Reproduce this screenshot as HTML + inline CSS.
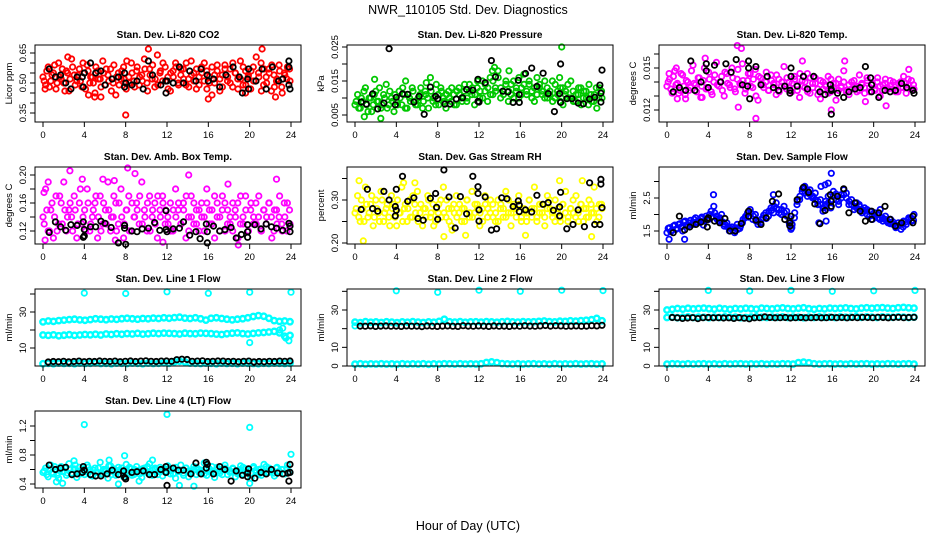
<!DOCTYPE html>
<html><head><meta charset="utf-8"><title>NWR_110105 Std. Dev. Diagnostics</title>
<style>
html,body{margin:0;padding:0;background:#fff;}
svg{display:block;font-family:"Liberation Sans",Arial,sans-serif;}
</style></head>
<body>
<svg id="chart" width="936" height="540" viewBox="0 0 936 540">
<text x="468" y="14" text-anchor="middle" font-size="12.5">NWR_110105  Std. Dev. Diagnostics</text>
<text x="468" y="530" text-anchor="middle" font-size="12.5">Hour of Day (UTC)</text>
</svg>
<script>
// ---------- data ----------
const xTicks = [0,4,8,12,16,20,24];

const co2Vals = [0.53,0.49,0.58,0.51,0.55,0.47,0.60,0.52,0.50,0.56,0.46,0.62,0.54,0.51,0.57,0.48,0.55,0.59,0.50,0.53,0.45,0.56,0.52,0.61,0.49,0.54,0.57,0.50,0.44,0.55,0.52,0.58,0.47,0.53,0.60,0.51,0.56,0.49,0.54,0.62,0.50,0.57,0.52,0.48,0.64,0.55,0.51,0.58,0.53,0.46,0.56,0.60,0.50,0.54,0.57,0.49,0.52,0.61,0.55,0.47,0.53,0.58,0.51,0.56,0.50,0.44,0.54,0.59,0.52,0.48,0.57,0.53,0.50,0.60,0.55,0.47,0.52,0.58,0.49,0.54,0.56,0.51,0.63,0.53,0.46,0.57,0.50,0.55,0.59,0.48,0.52,0.56,0.45,0.54,0.58,0.51];
const co2Vals2 = [0.51,0.56,0.48,0.54,0.59,0.50,0.53,0.57,0.46,0.55,0.52,0.58,0.49,0.54,0.51,0.60,0.47,0.56,0.53,0.50,0.58,0.52,0.48,0.55,0.57,0.51,0.46,0.59,0.53,0.49,0.56,0.52,0.61,0.50,0.55,0.48,0.58,0.53,0.51,0.57,0.46,0.54,0.59,0.52,0.49,0.56,0.60,0.51,0.47,0.55,0.53,0.58,0.49,0.57,0.52,0.60,0.48,0.54,0.51,0.57,0.49,0.55,0.60,0.47,0.53,0.58,0.50,0.56,0.46,0.54,0.59,0.51,0.57,0.48,0.55,0.52,0.61,0.49,0.56,0.53,0.47,0.58,0.51,0.55,0.60,0.49,0.53,0.57,0.46,0.54,0.51,0.59,0.48,0.55,0.52,0.57];
const co2OutH = [8.0,16.0,10.2,21.2,4.4,5.0,5.6,19.6,22.5,2.4,0.2];
const co2OutV = [0.34,0.42,0.67,0.67,0.44,0.43,0.43,0.45,0.43,0.63,0.47];
const co2BlkH = [0.6,1.2,1.7,2.2,2.7,3.3,3.8,3.9,4.0,4.6,5.1,5.6,6.0,6.7,7.3,7.9,7.9,8.0,8.6,9.1,9.7,10.2,10.6,11.4,11.9,12.0,11.9,12.6,13.2,13.6,14.2,14.8,15.3,15.9,16.0,16.5,17.1,17.7,18.4,19.0,19.3,19.8,19.9,19.9,20.6,21.2,21.6,22.2,22.8,23.2,23.8,23.8,23.8,23.9];
const co2BlkV = [0.57,0.53,0.54,0.50,0.47,0.53,0.53,0.48,0.55,0.60,0.55,0.56,0.49,0.52,0.53,0.55,0.48,0.50,0.49,0.51,0.47,0.61,0.54,0.49,0.51,0.51,0.45,0.50,0.58,0.50,0.56,0.51,0.57,0.54,0.51,0.52,0.48,0.54,0.58,0.53,0.45,0.52,0.57,0.47,0.51,0.57,0.47,0.58,0.51,0.52,0.61,0.58,0.49,0.47];

const presVals = [0.008,0.011,0.007,0.009,0.013,0.006,0.010,0.008,0.012,0.009,0.007,0.011,0.014,0.008,0.010,0.006,0.009,0.012,0.008,0.011,0.007,0.010,0.013,0.009,0.008,0.011,0.007,0.012,0.010,0.016,0.009,0.008,0.011,0.013,0.010,0.007,0.012,0.009,0.011,0.008,0.013,0.010,0.012,0.009,0.014,0.011,0.008,0.013,0.010,0.015,0.012,0.009,0.016,0.011,0.013,0.018,0.010,0.012,0.014,0.009,0.011,0.015,0.012,0.010,0.013,0.017,0.011,0.014,0.012,0.009,0.016,0.013,0.011,0.015,0.010,0.012,0.009,0.014,0.011,0.013,0.008,0.012,0.010,0.015,0.009,0.011,0.013,0.008,0.012,0.010,0.014,0.009,0.011,0.007,0.013,0.010];
const presVals2 = [0.009,0.007,0.010,0.012,0.008,0.010,0.006,0.011,0.009,0.013,0.008,0.010,0.007,0.012,0.009,0.011,0.008,0.010,0.013,0.007,0.011,0.009,0.012,0.008,0.010,0.013,0.009,0.011,0.007,0.012,0.010,0.014,0.008,0.012,0.009,0.011,0.010,0.013,0.008,0.012,0.011,0.009,0.014,0.010,0.012,0.013,0.011,0.015,0.012,0.010,0.014,0.013,0.011,0.015,0.012,0.016,0.013,0.011,0.015,0.012,0.014,0.010,0.013,0.016,0.011,0.014,0.012,0.015,0.010,0.013,0.011,0.014,0.012,0.010,0.013,0.011,0.015,0.010,0.012,0.009,0.013,0.011,0.014,0.010,0.012,0.009,0.011,0.013,0.010,0.012,0.008,0.011,0.009,0.013,0.010,0.012];
const presOutH = [20.0,19.8,13.3,13.5,2.5,0.9,14.9,6.9,4.9,1.9];
const presOutV = [0.025,0.016,0.018,0.019,0.004,0.0045,0.018,0.0145,0.015,0.0155];
const presBlkH = [0.6,1.1,1.7,2.2,2.8,3.3,3.9,4.0,4.6,5.1,5.7,6.2,6.7,7.3,7.8,8.0,8.7,9.2,9.8,10.4,10.8,11.4,11.9,11.9,12.0,12.6,13.2,13.6,14.3,14.8,15.3,15.8,15.9,15.9,16.5,17.1,17.6,18.2,18.7,19.3,19.8,19.9,19.9,20.5,21.0,21.6,22.1,22.7,23.2,23.7,23.8,23.8,23.9];
const presBlkV = [0.0088,0.0082,0.0112,0.0068,0.0085,0.0245,0.0080,0.0102,0.0112,0.0111,0.0088,0.0105,0.0052,0.0132,0.0105,0.0098,0.0082,0.0082,0.0097,0.0101,0.0125,0.0123,0.0155,0.0090,0.0088,0.0145,0.0210,0.0162,0.0120,0.0118,0.0087,0.0152,0.0110,0.0087,0.0172,0.0188,0.0134,0.0173,0.0113,0.0060,0.0113,0.0087,0.0200,0.0098,0.0098,0.0085,0.0083,0.0097,0.0102,0.0138,0.0114,0.0088,0.0182];

const tempVals = [0.0137,0.0142,0.0132,0.0148,0.0139,0.0134,0.0145,0.0131,0.0140,0.0136,0.0152,0.0138,0.0143,0.0129,0.0141,0.0135,0.0147,0.0133,0.0140,0.0154,0.0137,0.0144,0.0130,0.0146,0.0138,0.0150,0.0135,0.0142,0.0139,0.0153,0.0132,0.0141,0.0146,0.0136,0.0149,0.0127,0.0143,0.0138,0.0140,0.0134,0.0145,0.0139,0.0131,0.0142,0.0137,0.0151,0.0135,0.0140,0.0133,0.0144,0.0138,0.0129,0.0141,0.0136,0.0146,0.0132,0.0139,0.0143,0.0135,0.0128,0.0140,0.0137,0.0144,0.0133,0.0139,0.0127,0.0142,0.0136,0.0148,0.0134,0.0131,0.0140,0.0137,0.0133,0.0145,0.0138,0.0132,0.0141,0.0136,0.0139,0.0134,0.0143,0.0130,0.0138,0.0142,0.0135,0.0137,0.0140,0.0133,0.0139,0.0136,0.0144,0.0132,0.0138,0.0141,0.0135];
const tempVals2 = [0.0140,0.0135,0.0144,0.0138,0.0132,0.0146,0.0137,0.0141,0.0134,0.0148,0.0139,0.0133,0.0143,0.0137,0.0150,0.0136,0.0142,0.0131,0.0145,0.0138,0.0140,0.0134,0.0147,0.0139,0.0136,0.0143,0.0133,0.0149,0.0138,0.0141,0.0135,0.0146,0.0137,0.0142,0.0130,0.0144,0.0139,0.0136,0.0147,0.0134,0.0141,0.0138,0.0145,0.0133,0.0140,0.0137,0.0143,0.0136,0.0139,0.0142,0.0134,0.0146,0.0137,0.0140,0.0133,0.0143,0.0136,0.0139,0.0131,0.0141,0.0135,0.0138,0.0132,0.0142,0.0136,0.0139,0.0134,0.0137,0.0140,0.0133,0.0138,0.0135,0.0141,0.0137,0.0134,0.0139,0.0136,0.0143,0.0133,0.0138,0.0135,0.0140,0.0137,0.0134,0.0139,0.0136,0.0141,0.0135,0.0138,0.0133,0.0140,0.0136,0.0139,0.0142,0.0135,0.0138];
const tempOutH = [6.8,7.2,3.7,8.6,6.9,15.9,19.2,21.2,1.0,1.8,3.4,13.1,17.2,23.4,0.2,0.9];
const tempOutV = [0.0166,0.0164,0.0157,0.0114,0.0122,0.0120,0.0126,0.0123,0.0128,0.0128,0.0129,0.0155,0.0155,0.0149,0.0146,0.0150];
const tempBlkH = [0.6,1.2,1.8,2.3,2.7,3.3,3.8,3.8,4.0,4.6,5.2,5.7,6.2,6.7,7.3,7.8,7.9,7.9,8.0,8.6,9.1,9.7,10.3,10.8,11.4,11.9,11.9,12.0,12.0,12.6,13.2,13.6,14.2,14.8,15.3,15.8,15.9,15.9,15.9,16.5,17.1,17.6,18.2,18.7,19.2,19.7,19.8,19.8,20.5,21.1,21.6,22.1,22.7,23.2,23.8,23.9];
const tempBlkV = [0.0133,0.0136,0.0134,0.0155,0.0134,0.0140,0.0148,0.0153,0.0136,0.0152,0.0140,0.0153,0.0147,0.0156,0.0138,0.0137,0.0155,0.0150,0.0128,0.0151,0.0138,0.0144,0.0136,0.0134,0.0137,0.0132,0.0134,0.0150,0.0144,0.0137,0.0144,0.0135,0.0144,0.0133,0.0131,0.0138,0.0134,0.0135,0.0117,0.0132,0.0129,0.0133,0.0135,0.0136,0.0151,0.0143,0.0138,0.0133,0.0129,0.0134,0.0133,0.0134,0.0139,0.0136,0.0134,0.0132];

const ambVals = [0.14,0.18,0.12,0.15,0.11,0.17,0.13,0.16,0.19,0.12,0.15,0.14,0.17,0.11,0.16,0.13,0.15,0.18,0.12,0.14,0.16,0.11,0.17,0.13,0.15,0.19,0.12,0.14,0.16,0.13,0.18,0.11,0.15,0.17,0.12,0.14,0.16,0.13,0.19,0.15,0.12,0.17,0.14,0.16,0.11,0.15,0.17,0.13,0.14,0.16,0.12,0.18,0.15,0.13,0.16,0.11,0.14,0.17,0.13,0.15,0.12,0.16,0.14,0.18,0.13,0.15,0.11,0.16,0.14,0.17,0.12,0.15,0.13,0.16,0.14,0.11,0.17,0.13,0.15,0.12,0.16,0.14,0.13,0.17,0.12,0.15,0.14,0.16,0.11,0.15,0.13,0.17,0.12,0.14,0.16,0.13];
const ambVals2 = [0.13,0.15,0.12,0.16,0.14,0.12,0.17,0.13,0.15,0.14,0.16,0.12,0.15,0.13,0.18,0.14,0.12,0.16,0.13,0.15,0.17,0.14,0.12,0.16,0.13,0.15,0.14,0.17,0.12,0.16,0.14,0.13,0.15,0.12,0.16,0.14,0.15,0.17,0.13,0.14,0.16,0.12,0.15,0.13,0.17,0.14,0.16,0.15,0.13,0.12,0.15,0.14,0.16,0.13,0.15,0.17,0.12,0.14,0.16,0.13,0.15,0.14,0.12,0.16,0.15,0.13,0.17,0.14,0.12,0.15,0.16,0.13,0.14,0.12,0.15,0.16,0.13,0.14,0.17,0.12,0.15,0.13,0.16,0.14,0.12,0.15,0.13,0.16,0.14,0.12,0.15,0.14,0.13,0.16,0.12,0.15];
const ambOutH = [0.1,0.5,2.6,3.8,5.8,6.9,8.2,8.9,14.1,17.9,22.6,0.2,7.0,11.6,18.9];
const ambOutV = [0.175,0.190,0.206,0.194,0.194,0.192,0.210,0.202,0.200,0.187,0.194,0.107,0.107,0.104,0.100];
const ambBlkH = [0.6,1.2,1.7,2.2,2.7,3.3,3.9,3.9,4.0,4.0,4.6,5.1,5.6,6.0,6.6,7.3,7.9,7.9,8.0,8.6,9.1,9.6,10.2,10.8,11.3,11.9,11.9,12.0,12.6,13.2,13.6,14.2,14.8,15.2,15.8,15.9,15.9,16.5,17.1,17.6,18.2,18.7,19.2,19.8,19.8,19.8,20.5,21.1,21.6,22.1,22.6,23.2,23.8,23.9,23.9];
const ambBlkV = [0.118,0.133,0.126,0.121,0.129,0.128,0.133,0.111,0.122,0.113,0.126,0.126,0.134,0.131,0.125,0.103,0.128,0.124,0.101,0.120,0.119,0.123,0.124,0.132,0.121,0.149,0.122,0.119,0.123,0.124,0.133,0.114,0.119,0.109,0.130,0.119,0.103,0.127,0.120,0.122,0.125,0.110,0.115,0.129,0.119,0.111,0.129,0.123,0.130,0.126,0.124,0.121,0.131,0.127,0.119];

const rhVals = [0.27,0.31,0.25,0.28,0.33,0.26,0.29,0.24,0.30,0.27,0.32,0.25,0.28,0.26,0.31,0.29,0.24,0.27,0.33,0.28,0.25,0.30,0.26,0.29,0.32,0.27,0.24,0.28,0.31,0.26,0.29,0.25,0.27,0.30,0.33,0.26,0.28,0.24,0.29,0.31,0.27,0.25,0.28,0.30,0.26,0.32,0.27,0.29,0.24,0.28,0.31,0.26,0.27,0.29,0.25,0.30,0.28,0.26,0.32,0.27,0.24,0.29,0.28,0.31,0.26,0.27,0.25,0.30,0.28,0.33,0.26,0.29,0.27,0.24,0.31,0.28,0.26,0.30,0.27,0.25,0.29,0.32,0.26,0.28,0.27,0.31,0.25,0.29,0.28,0.26,0.30,0.27,0.33,0.25,0.29,0.28];
const rhVals2 = [0.28,0.26,0.30,0.25,0.29,0.27,0.31,0.26,0.28,0.25,0.30,0.27,0.29,0.24,0.28,0.26,0.30,0.27,0.25,0.29,0.28,0.26,0.31,0.27,0.25,0.29,0.28,0.26,0.30,0.27,0.24,0.28,0.29,0.26,0.27,0.30,0.25,0.28,0.27,0.26,0.29,0.28,0.25,0.30,0.27,0.26,0.29,0.28,0.27,0.25,0.29,0.28,0.30,0.26,0.27,0.25,0.29,0.28,0.26,0.30,0.27,0.28,0.26,0.29,0.25,0.28,0.27,0.30,0.26,0.28,0.25,0.27,0.29,0.26,0.28,0.30,0.27,0.25,0.28,0.26,0.29,0.27,0.25,0.28,0.30,0.26,0.27,0.29,0.25,0.28,0.26,0.29,0.27,0.28,0.26,0.29];
const rhOutH = [0.4,0.8,8.6,10.7,16.5,19.8,22.0,22.9,4.7,5.8,9.4];
const rhOutV = [0.345,0.205,0.215,0.218,0.218,0.345,0.345,0.215,0.340,0.340,0.230];
const rhBlkH = [0.6,1.2,1.7,2.2,2.8,3.3,3.9,3.9,4.0,4.0,4.6,5.1,5.7,6.1,6.6,7.3,7.8,7.9,8.0,8.6,9.1,9.7,10.2,10.8,11.4,11.9,11.9,12.0,12.0,12.6,13.2,13.7,14.2,14.7,15.3,15.8,15.9,15.9,16.5,17.1,17.6,18.2,18.7,19.2,19.8,19.8,19.9,20.5,21.1,21.6,22.2,22.7,23.2,23.7,23.8,23.8,23.9];
const rhBlkV = [0.278,0.325,0.280,0.274,0.320,0.300,0.285,0.263,0.325,0.276,0.355,0.297,0.305,0.257,0.253,0.304,0.315,0.283,0.255,0.370,0.307,0.235,0.308,0.268,0.355,0.331,0.315,0.277,0.251,0.307,0.230,0.233,0.305,0.303,0.285,0.298,0.273,0.288,0.277,0.272,0.311,0.290,0.294,0.276,0.284,0.263,0.318,0.233,0.243,0.277,0.238,0.340,0.243,0.243,0.348,0.337,0.282];

const sfVals = [1.45,1.60,1.52,1.68,1.58,1.72,1.50,1.80,1.65,1.82,1.70,1.90,1.75,1.88,1.68,1.95,1.85,2.10,2.25,1.95,1.80,2.00,1.65,1.75,1.50,1.62,1.45,1.70,1.58,1.75,1.90,2.05,2.15,1.85,2.00,1.70,1.75,1.90,2.05,1.95,2.20,2.05,2.35,2.15,2.00,2.25,2.10,1.75,1.60,1.90,2.30,2.45,2.70,2.85,2.55,2.75,2.50,2.65,2.30,2.45,2.10,2.30,2.55,2.20,2.70,2.45,2.30,2.60,2.75,2.50,2.40,2.30,2.15,2.35,2.25,2.05,2.20,2.00,2.10,1.85,2.05,1.90,2.15,1.80,1.95,1.75,1.85,1.70,1.60,1.75,1.55,1.80,1.70,1.90,1.80,2.00];
const sfVals2 = [1.58,1.48,1.65,1.55,1.70,1.62,1.78,1.68,1.75,1.70,1.85,1.78,1.82,1.92,1.80,1.88,2.00,1.92,2.05,1.85,1.90,1.78,1.70,1.62,1.58,1.52,1.60,1.55,1.65,1.85,1.95,1.92,2.05,1.95,1.80,1.78,1.85,1.98,1.88,2.10,2.12,2.25,2.18,2.05,2.15,2.05,1.95,1.68,1.70,2.05,2.40,2.55,2.78,2.65,2.72,2.60,2.55,2.45,2.40,2.30,2.20,2.40,2.35,2.45,2.55,2.62,2.40,2.50,2.60,2.65,2.30,2.45,2.25,2.20,2.30,2.15,2.10,2.15,1.95,2.00,1.95,2.00,1.85,1.90,1.85,1.80,1.72,1.78,1.68,1.65,1.70,1.62,1.78,1.85,1.90,1.82];
const sfOutH = [15.9,15.6,15.3,14.9,4.5,10.3,0.2,1.7,15.4,14.7,12.0];
const sfOutV = [3.25,2.95,2.90,2.85,2.60,2.60,1.25,1.25,1.80,1.75,1.55];
const sfBlkH = [0.6,1.2,1.7,2.2,2.8,3.3,3.9,3.9,4.0,4.6,5.1,5.6,6.1,6.6,7.2,7.9,7.9,8.6,9.1,9.6,10.2,10.8,11.4,11.9,11.9,12.0,12.6,13.2,13.7,14.3,14.8,15.3,15.8,15.9,15.9,16.5,17.1,17.6,18.2,18.7,19.2,19.8,19.8,20.5,21.1,21.6,22.1,22.7,23.8,23.8];
const sfBlkV = [1.45,1.95,1.53,1.62,1.70,1.77,1.85,1.62,1.90,1.80,1.75,1.88,1.50,1.50,1.73,2.10,1.95,1.83,1.70,1.90,2.40,2.62,1.85,1.75,1.65,1.95,2.45,2.82,2.67,2.32,1.72,2.12,2.60,2.40,2.25,2.55,2.78,2.05,2.35,2.10,1.80,1.85,2.10,2.05,2.25,1.85,1.65,1.75,1.75,1.95];

const l1BandA = [24.5,25.0,24.8,25.2,25.5,25.8,26.0,25.6,25.4,25.8,26.2,26.0,25.7,26.1,25.9,26.3,26.5,26.2,26.0,26.4,26.2,26.6,26.4,26.8,26.5,26.9,27.1,26.6,26.4,26.8,26.2,25.5,26.5,26.8,26.4,26.0,25.6,26.0,26.3,26.8,27.5,28.0,27.6,26.5,25.2,24.8,25.0,24.6];
const l1BandB = [17.2,17.0,17.3,16.8,17.1,17.4,17.0,17.2,17.5,17.3,17.6,17.2,17.8,17.5,17.9,17.6,18.0,17.8,18.1,17.7,17.9,18.2,18.0,18.3,18.1,18.0,17.8,18.2,18.0,17.9,18.3,18.1,18.0,17.7,17.5,17.9,18.2,18.4,18.0,17.8,18.1,18.4,18.6,18.9,19.2,18.4,16.5,17.0];
const l1BandC = [1.2,1.5,1.3,1.6,1.4,1.5,1.3,1.6,1.4,1.5,1.7,1.4,1.5,1.3,1.6,1.5,1.4,1.6,1.5,1.3,1.6,1.4,1.5,1.7,1.5,2.4,2.6,2.3,1.6,1.5,1.4,1.6,1.5,1.3,1.6,1.4,1.5,1.3,1.6,1.5,1.4,1.3,1.5,1.4,1.6,1.5,1.4,1.5];
const l1Blk = [2.2,2.5,2.4,2.6,2.3,2.5,2.7,2.4,2.6,2.5,2.8,2.6,2.5,2.7,2.4,2.6,2.8,2.5,2.7,2.9,2.6,2.5,2.7,2.8,2.6,3.5,3.8,3.6,2.6,2.7,2.9,2.5,2.6,2.8,2.7,2.5,2.6,2.4,2.6,2.7,2.3,2.5,2.4,2.6,2.5,2.7,2.6,2.8];
const l1OutH = [4,8,12,16,20,24,20.0,23.8,23.5,22.9,23.2];
const l1OutV = [40.5,40.3,41.2,40.4,41.0,41.0,13.0,14.0,15.5,20.0,21.0];

const l2BandA = [23.5,23.2,23.8,23.4,23.6,23.3,23.7,23.5,23.2,23.6,23.4,23.8,23.5,23.3,23.6,23.4,23.9,25.0,23.7,23.5,23.8,23.4,23.6,23.7,23.5,23.8,23.6,23.4,23.7,23.9,23.6,23.5,23.8,23.6,23.7,23.9,24.1,23.8,23.6,24.0,23.9,24.2,24.0,24.3,24.5,24.8,25.5,24.2];
const l2Blk = [21.4,21.3,21.5,21.2,21.4,21.5,21.3,21.4,21.2,21.5,21.3,21.4,21.1,21.5,21.3,21.2,21.4,21.5,21.3,21.2,21.6,21.4,21.3,21.5,21.4,21.2,21.5,21.3,21.4,21.2,21.5,21.3,21.6,21.4,21.3,21.5,21.7,21.4,21.6,21.5,21.3,21.4,21.5,21.3,21.4,21.6,21.5,21.8];
const l2BandC = [1.0,1.2,0.9,1.1,1.0,1.2,1.0,1.1,0.9,1.2,1.0,1.1,1.0,1.2,0.9,1.1,1.0,1.2,1.1,1.0,1.2,1.0,1.1,1.0,1.2,1.9,2.2,1.8,1.3,1.1,1.0,1.2,1.0,1.1,1.2,1.0,1.1,0.9,1.2,1.0,1.1,1.0,1.2,1.0,1.1,1.2,1.0,1.1];
const l2OutH = [4,8,12,16,20,24,0.0];
const l2OutV = [40.3,39.5,40.6,40.0,40.6,40.4,21.5];

const l3BandA = [30.0,30.4,30.8,30.5,30.9,30.6,30.8,31.0,30.7,30.5,30.9,30.6,30.4,30.8,30.6,30.9,30.7,30.5,31.0,30.8,30.6,30.9,31.1,30.8,30.6,30.9,31.2,30.7,30.4,30.8,30.6,31.0,30.8,30.9,31.1,30.8,30.6,31.0,31.2,30.9,31.1,31.3,31.0,30.8,31.2,31.4,31.1,31.0];
const l3BandB = [26.0,26.2,25.9,26.1,26.3,26.0,26.2,26.1,25.9,26.2,26.0,26.3,26.1,26.2,25.9,26.0,26.2,26.3,26.1,26.0,26.2,26.1,26.3,26.0,26.2,26.1,25.9,26.2,26.0,26.3,26.1,26.2,26.0,26.3,26.1,26.2,26.4,26.1,26.3,26.2,26.0,26.3,26.2,26.1,26.3,26.2,26.0,26.2];
const l3Blk = [26.0,25.8,25.5,25.7,25.9,25.4,25.9,26.0,25.8,25.9,25.7,25.8,25.5,25.9,25.6,25.3,25.8,25.9,26.3,26.0,25.8,25.9,26.0,25.7,25.9,26.0,25.8,25.9,26.0,25.8,25.9,26.1,25.9,26.0,25.8,26.0,25.9,26.1,26.0,25.9,26.1,26.0,25.8,26.0,26.1,25.9,26.0,26.1];
const l3BandC = [1.0,1.2,1.1,0.9,1.2,1.0,1.1,1.2,1.0,1.1,0.9,1.2,1.0,1.1,1.2,1.0,1.1,1.0,1.2,0.9,1.1,1.0,1.2,1.1,1.0,1.8,2.1,1.7,1.2,1.0,1.1,1.2,1.0,1.1,0.9,1.2,1.0,1.1,1.2,1.0,1.1,1.0,1.2,1.1,1.0,1.1,1.2,1.0];
const l3OutH = [4,8,12,16,20,24,0.0,0.0];
const l3OutV = [40.5,40.2,40.5,40.0,40.3,40.5,26.0,30.0];

const l4Vals = [0.56,0.62,0.50,0.66,0.54,0.60,0.48,0.64,0.58,0.52,0.68,0.55,0.61,0.49,0.63,0.57,0.53,0.66,0.59,0.51,0.62,0.56,0.70,0.54,0.60,0.48,0.65,0.57,0.52,0.63,0.58,0.50,0.67,0.55,0.61,0.53,0.64,0.59,0.49,0.62,0.56,0.68,0.52,0.60,0.57,0.63,0.51,0.58,0.65,0.54,0.61,0.48,0.59,0.66,0.55,0.62,0.50,0.57,0.64,0.53,0.60,0.56,0.69,0.52,0.61,0.58,0.49,0.63,0.55,0.60,0.66,0.53,0.58,0.62,0.50,0.57,0.65,0.54,0.61,0.59,0.48,0.64,0.56,0.60,0.52,0.67,0.55,0.62,0.58,0.51,0.63,0.57,0.60,0.54,0.66,0.56];
const l4Vals2 = [0.58,0.53,0.61,0.56,0.64,0.52,0.59,0.57,0.62,0.55,0.60,0.53,0.66,0.58,0.54,0.61,0.57,0.63,0.52,0.59,0.56,0.62,0.54,0.60,0.58,0.65,0.53,0.61,0.56,0.59,0.62,0.55,0.58,0.63,0.52,0.60,0.57,0.54,0.61,0.58,0.64,0.55,0.59,0.62,0.53,0.57,0.60,0.56,0.61,0.58,0.54,0.63,0.57,0.59,0.52,0.62,0.58,0.55,0.60,0.63,0.56,0.59,0.54,0.61,0.57,0.64,0.55,0.60,0.58,0.53,0.62,0.59,0.56,0.61,0.57,0.54,0.60,0.63,0.56,0.58,0.55,0.62,0.59,0.53,0.61,0.57,0.64,0.56,0.59,0.55,0.62,0.58,0.60,0.54,0.61,0.57];
const l4OutH = [4.0,12.0,20.0,24.0,7.9,7.3,13.2,14.6,1.9,20.0,3.0,6.4,1.3,9.3,10.6];
const l4OutV = [1.22,1.36,1.18,0.81,0.79,0.40,0.38,0.37,0.41,0.41,0.72,0.73,0.43,0.44,0.73];
const l4BlkH = [0.6,1.2,1.7,2.2,2.8,3.3,3.8,3.9,4.0,4.6,5.1,5.6,6.2,6.7,7.3,7.8,7.9,8.0,8.6,9.1,9.7,10.3,10.8,11.4,11.9,11.9,12.0,12.6,13.1,13.6,14.3,14.8,15.3,15.8,15.8,15.9,16.5,17.1,17.6,18.2,18.7,19.3,19.8,19.8,19.9,20.5,21.1,21.6,22.1,22.7,23.2,23.7,23.8,23.9,23.9];
const l4BlkV = [0.66,0.60,0.62,0.63,0.53,0.54,0.56,0.64,0.59,0.53,0.51,0.51,0.54,0.59,0.53,0.58,0.49,0.47,0.56,0.57,0.58,0.53,0.53,0.60,0.64,0.56,0.38,0.62,0.59,0.59,0.54,0.69,0.54,0.62,0.70,0.67,0.54,0.64,0.60,0.44,0.58,0.52,0.55,0.50,0.61,0.48,0.56,0.54,0.60,0.55,0.54,0.55,0.44,0.56,0.67];

// ---------- drawing ----------
const svg = document.getElementById('chart');
const NS = 'http://www.w3.org/2000/svg';
function mk(tag, attrs, parent){
  const e = document.createElementNS(NS, tag);
  for (const k in attrs) e.setAttribute(k, attrs[k]);
  (parent || svg).appendChild(e);
  return e;
}
function grid(n, a, b){ const r=[]; for(let i=0;i<n;i++) r.push(a + (b-a)*i/(n-1)); return r; }

const panels = [
 {key:'co2', title:'Stan. Dev. Li-820 CO2', ylab:'Licor ppm', col:0,row:0, ref:[0.65,8,0.35,68],
  ticks:[0.35,0.40,0.45,0.50,0.55,0.60,0.65], labels:['0.35','0.50','0.65'], labelVals:[0.35,0.50,0.65],
  series:[{v:co2Vals,c:'#ff0000'},{v:co2Vals2,c:'#ff0000',a:0.12,b:23.85},{h:co2OutH,v:co2OutV,c:'#ff0000'},{h:co2BlkH,v:co2BlkV,c:'#000'}]},
 {key:'pressure', title:'Stan. Dev. Li-820 Pressure', ylab:'kPa', col:1,row:0, ref:[0.025,2,0.005,70],
  ticks:[0.005,0.010,0.015,0.020,0.025], labels:['0.005','0.015','0.025'], labelVals:[0.005,0.015,0.025],
  series:[{v:presVals,c:'#00c800'},{v:presVals2,c:'#00c800',a:0.12,b:23.85},{h:presOutH,v:presOutV,c:'#00c800'},{h:presBlkH,v:presBlkV,c:'#000'}]},
 {key:'temp', title:'Stan. Dev. Li-820 Temp.', ylab:'degrees C', col:2,row:0, ref:[0.015,23,0.012,65],
  ticks:[0.012,0.013,0.014,0.015,0.016], labels:['0.012','0.015'], labelVals:[0.012,0.015],
  series:[{v:tempVals,c:'#ff00ff'},{v:tempVals2,c:'#ff00ff',a:0.12,b:23.85},{h:tempOutH,v:tempOutV,c:'#ff00ff'},{h:tempBlkH,v:tempBlkV,c:'#000'}]},
 {key:'amb-box', title:'Stan. Dev. Amb. Box Temp.', ylab:'degrees C', col:0,row:1, ref:[0.20,8,0.12,64],
  ticks:[0.12,0.14,0.16,0.18,0.20], labels:['0.12','0.16','0.20'], labelVals:[0.12,0.16,0.20],
  series:[{v:ambVals,c:'#ff00ff'},{v:ambVals2,c:'#ff00ff',a:0.12,b:23.85},{h:ambOutH,v:ambOutV,c:'#ff00ff'},{h:ambBlkH,v:ambBlkV,c:'#000'}]},
 {key:'rh', title:'Stan. Dev. Gas Stream RH', ylab:'percent', col:1,row:1, ref:[0.30,33,0.20,76],
  ticks:[0.20,0.25,0.30,0.35], labels:['0.20','0.30'], labelVals:[0.20,0.30],
  series:[{v:rhVals,c:'#ffff00'},{v:rhVals2,c:'#ffff00',a:0.12,b:23.85},{h:rhOutH,v:rhOutV,c:'#ffff00'},{h:rhBlkH,v:rhBlkV,c:'#000'}]},
 {key:'sample-flow', title:'Stan. Dev. Sample Flow', ylab:'ml/min', col:2,row:1, ref:[2.5,31,1.5,64],
  ticks:[1.5,2.0,2.5,3.0], labels:['1.5','2.5'], labelVals:[1.5,2.5],
  series:[{v:sfVals,c:'#0000ff'},{v:sfVals2,c:'#0000ff',a:0.12,b:23.85},{h:sfOutH,v:sfOutV,c:'#0000ff'},{h:sfBlkH,v:sfBlkV,c:'#000'}]},
 {key:'line1', title:'Stan. Dev. Line 1 Flow', ylab:'ml/min', col:0,row:2, ref:[30,23,10,59],
  ticks:[10,20,30,40], labels:['10','30'], labelVals:[10,30],
  series:[{v:l1BandA,c:'#00ffff',w:2.4},{v:l1BandB,c:'#00ffff',w:2.4},{v:l1BandC,c:'#00ffff',w:2.4},{h:l1OutH,v:l1OutV,c:'#00ffff'},{v:l1Blk,c:'#000',a:0.5,b:23.9}]},
 {key:'line2', title:'Stan. Dev. Line 2 Flow', ylab:'ml/min', col:1,row:2, ref:[30,21,0,77],
  ticks:[0,10,20,30,40], labels:['0','10','30'], labelVals:[0,10,30],
  series:[{v:l2BandA,c:'#00ffff',w:2.4},{v:l2BandC,c:'#00ffff',w:2.4},{h:l2OutH,v:l2OutV,c:'#00ffff'},{v:l2Blk,c:'#000',a:0.5,b:23.9}]},
 {key:'line3', title:'Stan. Dev. Line 3 Flow', ylab:'ml/min', col:2,row:2, ref:[30,21,0,77],
  ticks:[0,10,20,30,40], labels:['0','10','30'], labelVals:[0,10,30],
  series:[{v:l3BandA,c:'#00ffff',w:2.4},{v:l3BandB,c:'#00ffff',w:2.4},{v:l3BandC,c:'#00ffff',w:2.4},{h:l3OutH,v:l3OutV,c:'#00ffff'},{v:l3Blk,c:'#000',a:0.5,b:23.9}]},
 {key:'line4', title:'Stan. Dev. Line 4 (LT) Flow', ylab:'ml/min', col:0,row:3, ref:[1.2,15,0.4,73],
  ticks:[0.4,0.6,0.8,1.0,1.2], labels:['0.4','0.8','1.2'], labelVals:[0.4,0.8,1.2],
  series:[{v:l4Vals,c:'#00ffff'},{v:l4Vals2,c:'#00ffff',a:0.12,b:23.85},{h:l4OutH,v:l4OutV,c:'#00ffff'},{h:l4BlkH,v:l4BlkV,c:'#000'}]}
];

panels.forEach(p => {
  const X0 = p.col*312;
  const top = 45 + p.row*122, bot = top + 77;
  const left = X0 + 35, right = X0 + 301;
  const xs = h => X0 + 43 + h*248/24;
  const ys = v => top + p.ref[1] + (v - p.ref[0])*(p.ref[3]-p.ref[1])/(p.ref[2]-p.ref[0]);

  const g = mk('g', {});
  
  

  const t = mk('text', {x:(left+right)/2, y:top-7, 'text-anchor':'middle', 'font-size':'10', 'font-weight':'bold'}, g);
  t.textContent = p.title;
  
  

  const pts = mk('g', {fill:'none'}, g);
  
  
  p.series.forEach(s => {
    const hs = s.h || grid(s.v.length, s.a !== undefined ? s.a : 0, s.b !== undefined ? s.b : 23.9);
    s.v.forEach((v, i) => {
      const c = mk('circle', {cx:xs(hs[i]).toFixed(1), cy:ys(v).toFixed(1), r:'2.7', stroke:s.c, 'stroke-width':(s.w || 1.8)}, pts);
      
      
    });
  });

  const box = mk('rect', {x:left, y:top, width:right-left, height:bot-top, fill:'none', stroke:'#000', 'stroke-width':'1'}, g);
  
  

  const xa = mk('g', {stroke:'#000', 'stroke-width':'1'}, g);
  
  
  mk('line', {x1:xs(0), x2:xs(24), y1:bot, y2:bot}, xa);
  xTicks.forEach(h => {
    mk('line', {x1:xs(h), x2:xs(h), y1:bot, y2:bot+5}, xa);
    const lt = mk('text', {x:xs(h), y:bot+16, 'text-anchor':'middle', 'font-size':'9.5', stroke:'none', fill:'#000'}, xa);
    lt.textContent = h;
    
    
  });

  const ya = mk('g', {stroke:'#000', 'stroke-width':'1'}, g);
  
  
  mk('line', {x1:left, x2:left, y1:ys(p.ticks[0]), y2:ys(p.ticks[p.ticks.length-1])}, ya);
  p.ticks.forEach(v => { mk('line', {x1:left-5, x2:left, y1:ys(v), y2:ys(v)}, ya); });
  p.labelVals.forEach((v, i) => {
    const yy = ys(v);
    const lt = mk('text', {x:left-9, y:yy, 'text-anchor':'middle', 'font-size':'9.5', stroke:'none', fill:'#000', transform:'rotate(-90 '+(left-9)+' '+yy+')'}, ya);
    lt.textContent = p.labels[i];
    
    
  });
  const yl = mk('text', {x:X0+12, y:(top+bot)/2, 'text-anchor':'middle', 'font-size':'9.5', transform:'rotate(-90 '+(X0+12)+' '+((top+bot)/2)+')'}, g);
  yl.textContent = p.ylab;
  
  
});
</script>
</body></html>
